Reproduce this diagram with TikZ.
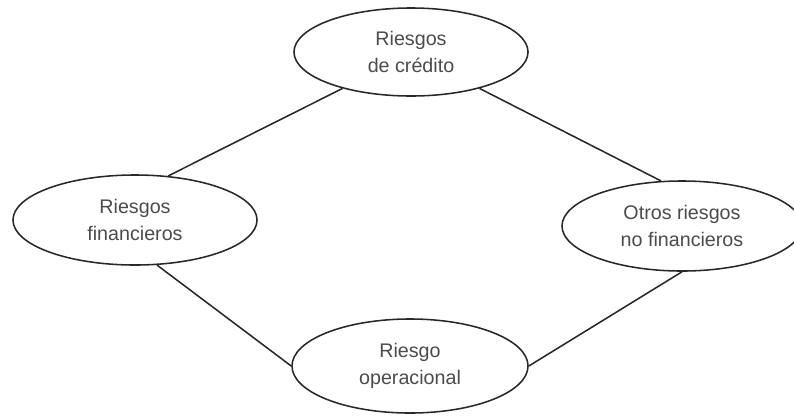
\documentclass[tikz,border=0pt]{standalone}
\usepackage{fontspec}
\setmainfont{Liberation Sans}
\definecolor{txt}{RGB}{75,75,75}
\definecolor{ln}{RGB}{40,40,40}
\tikzset{
  riskbox/.style={draw=ln, line width=1.1pt, ellipse, inner sep=0pt, align=center,
    text=txt, font=\fontsize{14}{19.2}\selectfont},
  link/.style={draw=ln, line width=1.1pt}
}
\usetikzlibrary{shapes.geometric}
\begin{document}
\begin{tikzpicture}[x=0.025cm, y=-0.025cm]
\useasboundingbox (0,0) rectangle (794,417);
\node[riskbox, minimum width=5.85cm, minimum height=2.2cm] (top) at (411,52) {Riesgos\\de crédito};
\node[riskbox, minimum width=6.1cm, minimum height=2.25cm] (left) at (135,220) {Riesgos\\financieros};
\node[riskbox, minimum width=6.0cm, minimum height=2.25cm] (right) at (682,226) {Otros riesgos\\no financieros};
\node[riskbox, minimum width=5.9cm, minimum height=2.35cm] (bottom) at (410,366) {Riesgo\\operacional};
\draw[link] (top.208) -- (left.53);
\draw[link] (top.332) -- (right.115);
\draw[link] (left.296) -- (bottom.180);
\draw[link] (right.270) -- (bottom.0);
\end{tikzpicture}
\end{document}
